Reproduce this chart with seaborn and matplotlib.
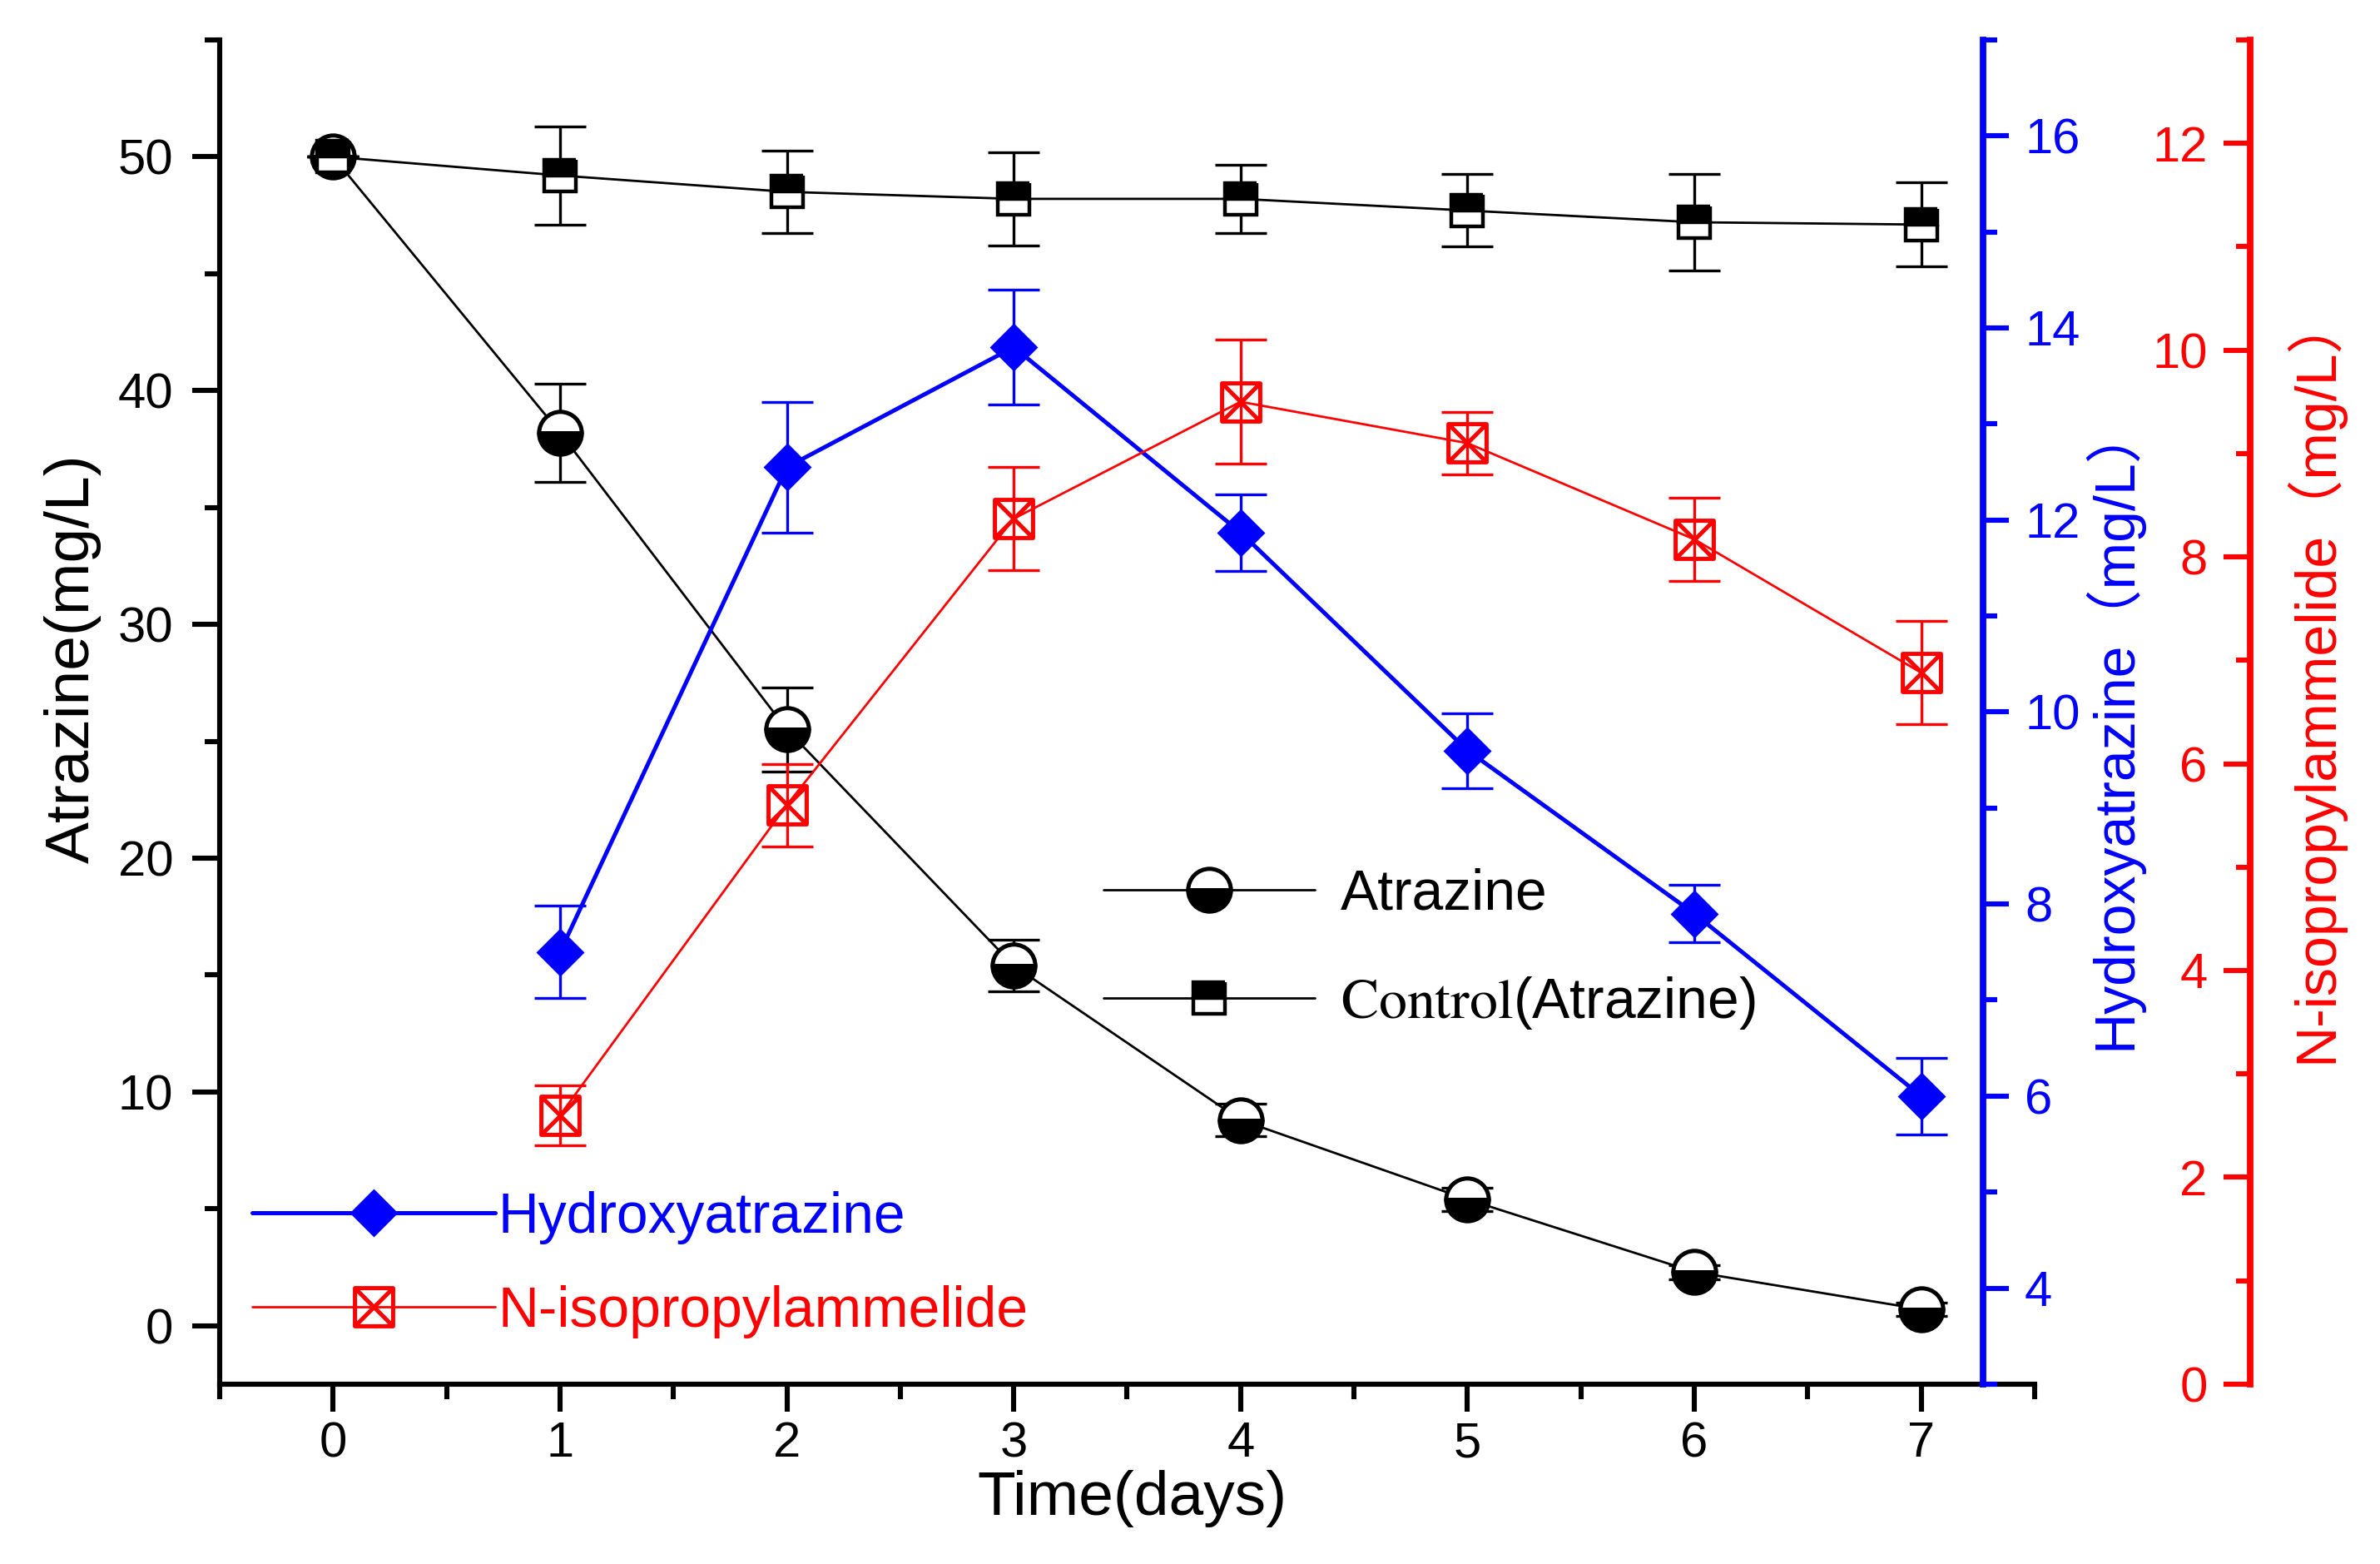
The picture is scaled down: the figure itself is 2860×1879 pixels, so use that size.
import matplotlib
matplotlib.use('Agg')
import matplotlib.pyplot as plt
import seaborn as sns
from matplotlib.path import Path
from matplotlib.ticker import MultipleLocator

# data
days = [0, 1, 2, 3, 4, 5, 6, 7]
atrazine = [50.0, 38.2, 25.5, 15.4, 8.8, 5.4, 2.3, 0.7]
atrazine_err = [0.0, 2.1, 1.8, 1.1, 0.7, 0.5, 0.3, 0.3]
control = [50.0, 49.2, 48.5, 48.2, 48.2, 47.7, 47.2, 47.1]
control_err = [0.0, 2.1, 1.75, 2.0, 1.45, 1.55, 2.05, 1.8]

met_days = [1, 2, 3, 4, 5, 6, 7]
hydroxy = [7.5, 12.55, 13.8, 11.87, 9.6, 7.9, 6.0]
hydroxy_err = [0.48, 0.68, 0.6, 0.4, 0.39, 0.3, 0.4]
nipa = [2.6, 5.6, 8.37, 9.5, 9.1, 8.17, 6.88]
nipa_err = [0.29, 0.4, 0.5, 0.6, 0.3, 0.4, 0.5]

sns.set_style("ticks")
plt.rcParams['font.family'] = ['Liberation Sans', 'Noto Sans CJK SC', 'DejaVu Sans']
plt.rcParams['mathtext.fontset'] = 'stix'
plt.rcParams['text.color'] = 'k'
plt.rcParams['axes.labelcolor'] = 'k'
plt.rcParams['xtick.color'] = 'k'
plt.rcParams['ytick.color'] = 'k'
plt.rcParams['axes.edgecolor'] = 'k'

# square with a cross inside
xbox = Path([(-1, -1), (1, -1), (1, 1), (-1, 1), (-1, -1), (-1, -1), (1, 1), (-1, 1), (1, -1)],
            [Path.MOVETO, Path.LINETO, Path.LINETO, Path.LINETO, Path.CLOSEPOLY,
             Path.MOVETO, Path.LINETO, Path.MOVETO, Path.LINETO])

fig = plt.figure(figsize=(14.3, 9.395), dpi=200)
ax = fig.add_axes([0.0923, 0.115, 0.7626, 0.8595])
ax2 = ax.twinx()
ax3 = ax.twinx()

# atrazine + control on the left axis
ax.errorbar(days, atrazine, yerr=atrazine_err, fmt='none', ecolor='k', elinewidth=1.2,
            capsize=11, capthick=1.2, zorder=2)
sns.lineplot(x=days, y=atrazine, ax=ax, color='k', lw=1.0, marker='o', markersize=18.5,
             fillstyle='bottom', markerfacecolor='k', markerfacecoloralt='w',
             markeredgecolor='k', markeredgewidth=1.8, errorbar=None, zorder=3)
h_atr = ax.lines[-1]
ax.errorbar(days, control, yerr=control_err, fmt='none', ecolor='k', elinewidth=1.2,
            capsize=11, capthick=1.2, zorder=2)
sns.lineplot(x=days, y=control, ax=ax, color='k', lw=1.0, marker='s', markersize=14,
             fillstyle='top', markerfacecolor='k', markerfacecoloralt='w',
             markeredgecolor='k', markeredgewidth=1.6, errorbar=None, zorder=4)
h_ctl = ax.lines[-1]

# hydroxyatrazine on the blue axis
ax2.errorbar(met_days, hydroxy, yerr=hydroxy_err, fmt='none', ecolor='b', elinewidth=1.2,
             capsize=11, capthick=1.2, zorder=2)
sns.lineplot(x=met_days, y=hydroxy, ax=ax2, color='b', lw=1.8, marker='D', markersize=13.5,
             markeredgecolor='b', markeredgewidth=1.0, errorbar=None, zorder=3)
h_hyd = ax2.lines[-1]

# N-isopropylammelide on the red axis
ax3.errorbar(met_days, nipa, yerr=nipa_err, fmt='none', ecolor='r', elinewidth=1.2,
             capsize=11, capthick=1.2, zorder=2)
sns.lineplot(x=met_days, y=nipa, ax=ax3, color='r', lw=1.0, marker=xbox, markersize=16.5,
             markerfacecolor='none', markeredgecolor='r', markeredgewidth=1.8,
             errorbar=None, zorder=3)
h_nip = ax3.lines[-1]

# main axis
ax.set_xlim(-0.5, 7.5)
ax.set_ylim(-2.5, 55)
ax.xaxis.set_major_locator(MultipleLocator(1))
ax.xaxis.set_minor_locator(MultipleLocator(0.5))
ax.yaxis.set_major_locator(MultipleLocator(10))
ax.yaxis.set_minor_locator(MultipleLocator(5))
for s in ['top', 'right']:
    ax.spines[s].set_visible(False)
for s in ['left', 'bottom']:
    ax.spines[s].set_linewidth(2.2)
ax.tick_params(which='major', length=12, width=2.2, labelsize=21.5, direction='out')
ax.tick_params(which='minor', length=6.5, width=2.2, direction='out')
ax.tick_params(axis='x', pad=4)
ax.tick_params(axis='y', pad=8)
ax.set_xlabel('Time(days)', fontsize=27)
ax.set_ylabel('Atrazine(mg/L)', fontsize=27)
ax.xaxis.set_label_coords(0.5025, -0.064)
ax.yaxis.set_label_coords(-0.065, 0.54)

# blue axis
ax2.set_ylim(3, 17)
ax2.yaxis.set_major_locator(MultipleLocator(2))
ax2.yaxis.set_minor_locator(MultipleLocator(1))
for s in ['top', 'left', 'bottom']:
    ax2.spines[s].set_visible(False)
ax2.spines['right'].set_position(('axes', 0.9716))
ax2.spines['right'].set_color('b')
ax2.spines['right'].set_linewidth(2.8)
ax2.tick_params(axis='y', which='major', colors='b', length=11, width=2.2, labelsize=21.5, pad=7)
ax2.tick_params(axis='y', which='minor', colors='b', length=6, width=2.2)
ax2.set_ylabel('Hydroxyatrazine（mg/L）', color='b', fontsize=24.5)
ax2.yaxis.set_label_coords(1.026, 0.49)

# red axis: spine moved out, ticks and numbers on its left
ax3.set_ylim(0, 13)
ax3.yaxis.set_major_locator(MultipleLocator(2))
ax3.yaxis.set_minor_locator(MultipleLocator(1))
for s in ['top', 'right', 'bottom']:
    ax3.spines[s].set_visible(False)
ax3.spines['left'].set_visible(True)
ax3.spines['left'].set_position(('axes', 1.1188))
ax3.spines['left'].set_color('r')
ax3.spines['left'].set_linewidth(2.8)
ax3.yaxis.set_ticks_position('left')
ax3.tick_params(axis='y', which='major', colors='r', length=11.5, width=2.2, labelsize=21.5, pad=7)
ax3.tick_params(axis='y', which='minor', colors='r', length=6, width=2.2)
ax3.set_ylabel('N-isopropylammelide（mg/L）', color='r', fontsize=24.5)
ax3.yaxis.set_label_position('right')
ax3.yaxis.set_label_coords(1.137, 0.526)

# legends
leg1 = ax3.legend([h_atr, h_ctl], ['Atrazine', r'$\mathrm{Control}$(Atrazine)'],
                  loc='upper left', bbox_to_anchor=(0.487, 0.384), frameon=False,
                  fontsize=24.4, numpoints=1, handlelength=3.75, handletextpad=0.45,
                  labelspacing=0.95, borderpad=0, borderaxespad=0)
ax3.add_artist(leg1)
ax3.legend([h_hyd, h_nip], ['Hydroxyatrazine', 'N-isopropylammelide'],
           loc='upper left', bbox_to_anchor=(0.018, 0.1435), frameon=False,
           fontsize=24.4, numpoints=1, handlelength=4.3, handletextpad=0.05,
           labelspacing=0.72, borderpad=0, borderaxespad=0, labelcolor='linecolor')

fig.savefig('out.png', dpi=200)
